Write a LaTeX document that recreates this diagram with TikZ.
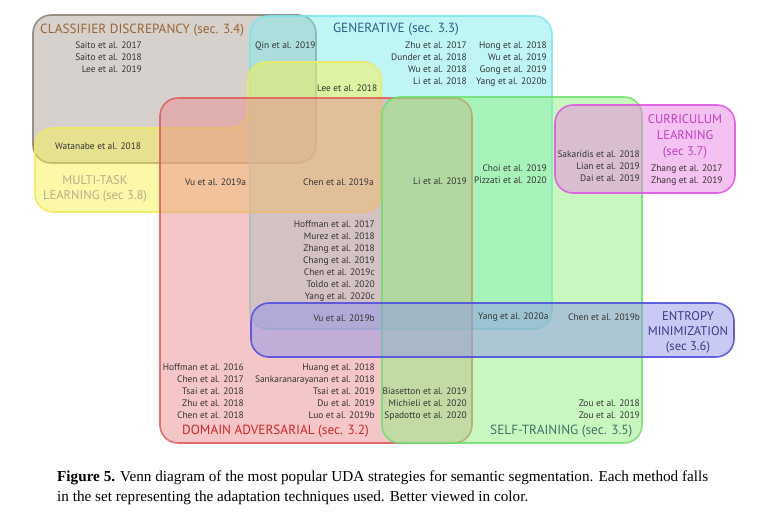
\documentclass[tikz,border=0pt]{standalone}
\usepackage{fontspec}
\setmainfont{Liberation Serif}
\newfontfamily\vennfont{PT Sans}

\definecolor{cdfill}{HTML}{ADA39B}
\definecolor{cddraw}{HTML}{8A8070}
\definecolor{genfill}{HTML}{80EBEB}
\definecolor{gendraw}{HTML}{7AE6EC}
\definecolor{mtfill}{HTML}{F7F151}
\definecolor{mtdraw}{HTML}{F0EA5A}
\definecolor{dafill}{HTML}{E98D91}
\definecolor{dadraw}{HTML}{E05A5A}
\definecolor{stfill}{HTML}{91F181}
\definecolor{stdraw}{HTML}{6EE06E}
\definecolor{clfill}{HTML}{E985E1}
\definecolor{cldraw}{HTML}{E050E0}
\definecolor{emfill}{HTML}{9195E9}
\definecolor{emdraw}{HTML}{4A4AE0}

\begin{document}
\begin{tikzpicture}[
  x=1pt, y=-1pt,
  venn/.style={line width=1.6pt, rounded corners=18pt, fill opacity=0.5, draw opacity=0.85},
  ref/.style={inner sep=0pt, text=black!80, align=right, font=\vennfont\fontsize{9.4}{12}\selectfont},
  ttl/.style={inner sep=0pt, align=center, font=\vennfont\fontsize{13.3}{15}\selectfont},
  ttlsmall/.style={ttl, font=\vennfont\fontsize{12.6}{15}\selectfont},
]
\useasboundingbox (0,0) rectangle (765,517);
%\draw[gray, help lines, step=50] (0,0) grid (765,517);

% sets
\draw [venn, fill=cdfill, draw=cddraw] (33,15) rectangle (316,163);
\draw [venn, fill=genfill, draw=gendraw] (250,16) rectangle (552,329);
\draw [venn, fill=mtfill, draw=mtdraw] (248,62) -- (381,62) -- (381,212) -- (35,212) -- (35,128) -- (248,128) -- cycle;
\draw [venn, fill=dafill, draw=dadraw] (160,98) rectangle (472,443);
\draw [venn, fill=stfill, draw=stdraw] (382,97) rectangle (642,443);
\draw [venn, fill=clfill, draw=cldraw] (555,105) rectangle (735,193);
\draw [venn, fill=emfill, draw=emdraw] (251,303) rectangle (734,357);

% titles
\node (cdtitle) [ttl, anchor=west, text=brown!80!black] at (40,30) {CLASSIFIER DISCREPANCY (sec. 3.4)};
\node (gentitle) [ttl, text={rgb,255:red,47;green,93;blue,140}] at (396,29) {GENERATIVE (sec. 3.3)};
\node (mttitle) [ttlsmall, text={rgb,255:red,184;green,173;blue,138}] at (95,189) {MULTI-TASK\\LEARNING (sec 3.8)};
\node (cltitle) [ttlsmall, text={rgb,255:red,192;green,64;blue,192}, font=\vennfont\fontsize{12.6}{16}\selectfont] at (685,136) {CURRICULUM\\LEARNING\\(sec 3.7)};
\node (emtitle) [ttlsmall, text={rgb,255:red,58;green,58;blue,138}] at (688,332) {ENTROPY\\MINIMIZATION\\(sec 3.6)};
\node (datitle) [ttl, anchor=west, text={rgb,255:red,208;green,40;blue,40}] at (182,431) {DOMAIN ADVERSARIAL (sec. 3.2)};
\node (sttitle) [ttl, anchor=west, text={rgb,255:red,63;green,114;blue,104}] at (490,431) {SELF-TRAINING (sec. 3.5)};

% methods
\node (saito) [ref, anchor=north east] at (142,42) {Saito et al. 2017\\Saito et al. 2018\\Lee et al. 2019};
\node (qin) [ref, anchor=west] at (255,46) {Qin et al. 2019};
\node (zhu) [ref, anchor=north east] at (467,42) {Zhu et al. 2017\\Dunder et al. 2018\\Wu et al. 2018\\Li et al. 2018};
\node (hong) [ref, anchor=north east] at (547,42) {Hong et al. 2018\\Wu et al. 2019\\Gong et al. 2019\\Yang et al. 2020b};
\node (lee) [ref, anchor=west] at (317,88) {Lee et al. 2018};
\node (watanabe) [ref, anchor=west] at (55,146) {Watanabe et al. 2018};
\node (vua) [ref, anchor=west] at (185,182) {Vu et al. 2019a};
\node (chena) [ref, anchor=west] at (303,182) {Chen et al.\ 2019a};
\node (li) [ref, anchor=east] at (467,181) {Li et al. 2019};
\node (choi) [ref, anchor=north east] at (547,165) {Choi et al. 2019\\Pizzati et al. 2020};
\node (sakaridis) [ref, anchor=north east] at (640,151) {Sakaridis et al. 2018\\Lian et al. 2019\\Dai et al. 2019};
\node (zhang) [ref, anchor=north west, align=left] at (651,165) {Zhang et al. 2017\\Zhang et al. 2019};
\node (hoffmanb) [ref, anchor=north east] at (375,221) {Hoffman et al. 2017\\Murez et al. 2018\\Zhang et al. 2018\\Chang et al. 2019\\Chen et al. 2019c\\Toldo et al. 2020\\Yang et al. 2020c};
\node (vub) [ref, anchor=east] at (375,318) {Vu et al. 2019b};
\node (yanga) [ref, anchor=west] at (478,317) {Yang et al. 2020a};
\node (chenb) [ref, anchor=west] at (568,317) {Chen et al. 2019b};
\node (hoffmana) [ref, anchor=north east] at (244,364) {Hoffman et al. 2016\\Chen et al. 2017\\Tsai et al. 2018\\Zhu et al. 2018\\Chen et al. 2018};
\node (huang) [ref, anchor=north east] at (375,364) {Huang et al. 2018\\Sankaranarayanan et al. 2018\\Tsai et al. 2019\\Du et al. 2019\\Luo et al. 2019b};
\node (biasetton) [ref, anchor=north east] at (467,388) {Biasetton et al. 2019\\Michieli et al. 2020\\Spadotto et al. 2020};
\node (zou) [ref, anchor=north east] at (640,400) {Zou et al. 2018\\Zou et al. 2019};

% caption
\node (caption) [anchor=north west, inner sep=0pt, align=left, font=\fontsize{15.2}{20}\selectfont] at (57,471)
  {\textbf{Figure 5.} Venn diagram of the most popular UDA strategies for semantic segmentation. Each method falls\\
   in the set representing the adaptation techniques used. Better viewed in color.};
\end{tikzpicture}
\end{document}
